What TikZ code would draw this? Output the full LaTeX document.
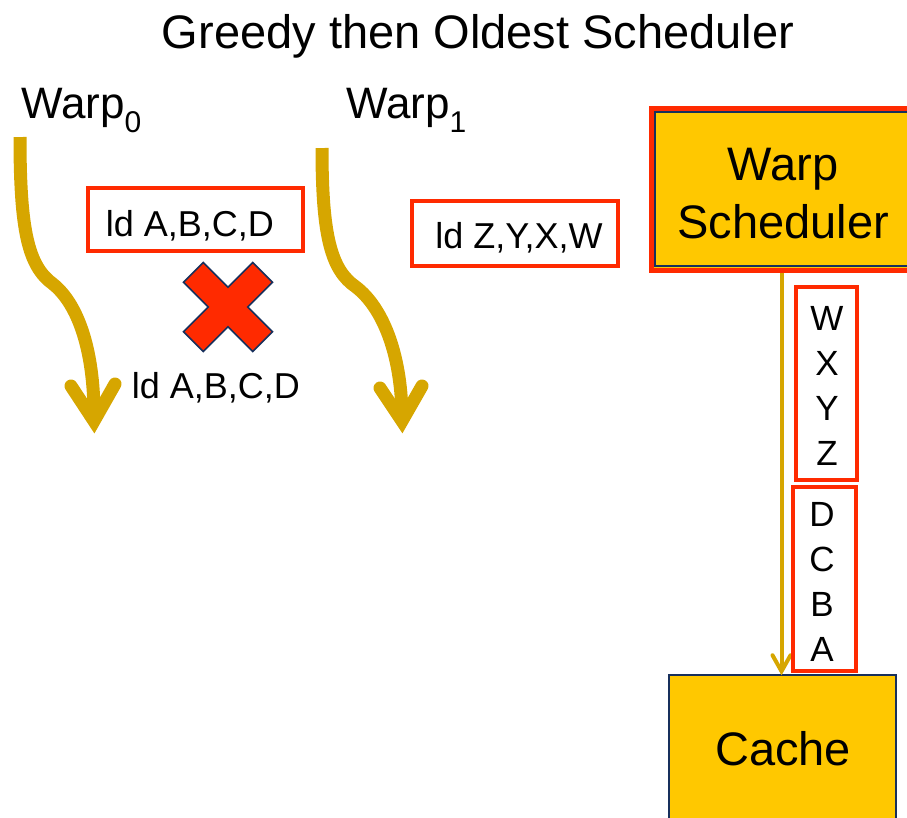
\documentclass[tikz,border=0pt]{standalone}
\usepackage{fontspec}
\setmainfont{Liberation Sans}
\usetikzlibrary{calc}

\definecolor{flowgold}{RGB}{214,166,0}
\definecolor{boxgold}{RGB}{255,200,0}
\definecolor{alertred}{RGB}{255,42,0}
\definecolor{navyline}{RGB}{24,48,92}

\newcommand{\fsz}[1]{\fontsize{#1}{#1}\selectfont}

\tikzset{
  x=1pt, y=-1pt,
  title/.style={font=\fsz{47}, anchor=base, inner sep=0pt},
  warplabel/.style={font=\fsz{44}, anchor=base west, inner sep=0pt},
  instr/.style={draw=alertred, line width=3.5pt, fill=white, inner sep=0pt},
  instrtext/.style={font=\fsz{36}, anchor=base, inner sep=0pt},
  stackbox/.style={draw=alertred, line width=3.5pt, fill=white, inner sep=0pt},
  stacktext/.style={font=\fontsize{35}{45}\selectfont, align=center, inner sep=0pt},
  unitbox/.style={fill=boxgold, draw=navyline, line width=1.5pt, inner sep=0pt},
  unittext/.style={font=\fontsize{47}{58}\selectfont, align=center, inner sep=0pt},
  flow/.style={draw=flowgold, line width=13pt},
  barb/.style={draw=flowgold, line width=13pt, line cap=round, line join=miter},
  feed/.style={draw=flowgold, line width=4pt},
  feedbarb/.style={draw=flowgold, line width=4pt, line cap=round, line join=miter},
}

\begin{document}
\begin{tikzpicture}
\useasboundingbox (0,0) rectangle (907,817);

% heading
\node[title] (head) at (478,48) {Greedy then Oldest Scheduler};

% warp labels
\node[warplabel] (w0) at (21,118) {Warp\raisebox{-14pt}{\fsz{30}0}};
\node[warplabel] (w1) at (346,118) {Warp\raisebox{-14pt}{\fsz{30}1}};

% execution flow of warp 0
\coordinate (f0s) at (20,137);
\coordinate (f0k) at (53,284);
\coordinate (f0t) at (94,421);
\coordinate (f0l) at (71,386);
\coordinate (f0r) at (115,384);
\draw[flow] (f0s) .. controls (20,230) and (28,266) .. (f0k)
  .. controls (78,304) and (94,350) .. ($(f0t)+(0,-6)$);
\draw[barb] (f0l) -- (f0t) -- (f0r);

% execution flow of warp 1
\coordinate (f1s) at (322,148);
\coordinate (f1k) at (356,287);
\coordinate (f1t) at (402,421);
\coordinate (f1l) at (380,388);
\coordinate (f1r) at (422,386);
\draw[flow] (f1s) .. controls (322,236) and (331,270) .. (f1k)
  .. controls (382,307) and (401,352) .. ($(f1t)+(0,-6)$);
\draw[barb] (f1l) -- (f1t) -- (f1r);

% issued loads
\node[instr, minimum width=215pt, minimum height=63pt] (ld0) at (195.5,219.5) {};
\node[instrtext] (ld0t) at (190,236) {ld A,B,C,D};
\node[instr, minimum width=206pt, minimum height=65pt] (ld1) at (515,233.5) {};
\node[instrtext] (ld1t) at (519,248) {ld Z,Y,X,W};

% cancelled reissue
\begin{scope}[shift={(228,307)}, rotate=45]
  \draw[fill=alertred, draw=navyline, line width=1.5pt, line join=miter]
    (14,49) -- (14,14) -- (49,14) -- (49,-14) -- (14,-14) -- (14,-49)
    -- (-14,-49) -- (-14,-14) -- (-49,-14) -- (-49,14) -- (-14,14)
    -- (-14,49) -- cycle;
\end{scope}
\node[instrtext] (ld0r) at (216,398) {ld A,B,C,D};

% warp scheduler
\fill[boxgold] (651,108) rectangle (912,270);
\draw[navyline, line width=1.5pt] (655,112) rectangle (912,266);
\node[draw=alertred, line width=5pt, minimum width=261pt, minimum height=162pt, inner sep=0pt]
  (sched) at (781.5,189) {};
\node[unittext] (schedt) at (783,194) {Warp\\Scheduler};

% cache
\node[unitbox, minimum width=227pt, minimum height=160pt] (cache) at (782.5,755) {};
\node[unittext, anchor=base] (cachet) at (783,765) {Cache};

% request stream to the cache
\coordinate (feedtip) at (sched.south |- cache.north);
\draw[feed] (sched.south) -- ($(feedtip)+(0,-3)$);
\draw[feedbarb] ($(feedtip)+(-9,-19)$) -- ($(feedtip)+(0,-3)$) -- ($(feedtip)+(9,-19)$);

% queued requests
\node[stackbox, minimum width=61pt, minimum height=193pt] (q1) at (826.5,383.5) {};
\node[stacktext] (q1t) at (827,386) {W\\X\\Y\\Z};
\node[stackbox, minimum width=63pt, minimum height=184pt] (q0) at (824.5,579) {};
\node[stacktext] (q0t) at (822,582) {D\\C\\B\\A};
\end{tikzpicture}
\end{document}
